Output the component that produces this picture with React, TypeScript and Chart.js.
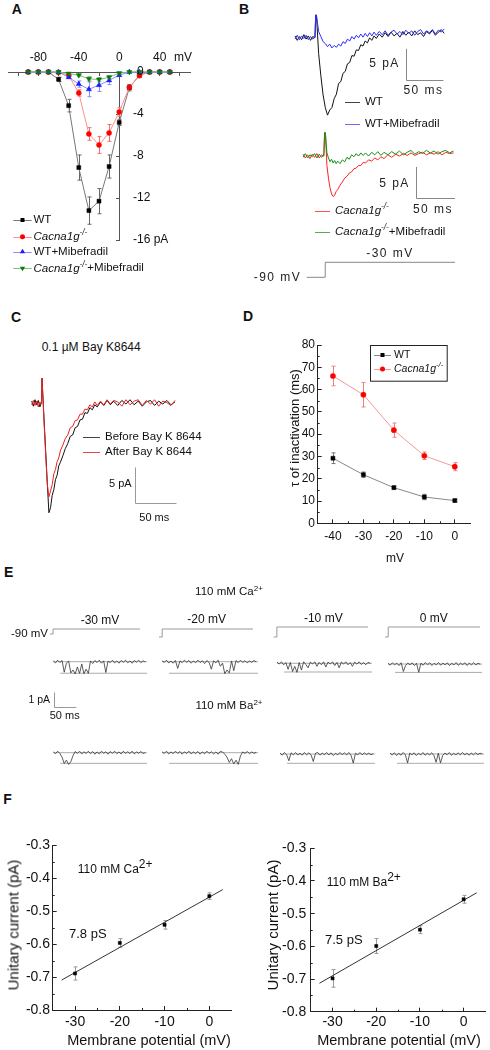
import React, { useEffect, useRef } from 'react';
import { Chart, registerables } from 'chart.js';

Chart.register(...registerables);

const FONT = '"Liberation Sans", Arial, Helvetica, sans-serif';

/* ================= DATA ================= */
// Panel A – I/V curves (pA vs mV)
const ivVoltages = [-90, -80, -70, -60, -50, -40, -30, -20, -10, 0, 10, 20, 30, 40, 50];
const ivWT = [0, 0, 0, -0.7, -3.2, -9.1, -13.2, -12.3, -9.0, -4.8, -1.5, -0.3, 0, 0, 0];
const ivWTErr = [0, 0, 0, 0.2, 0.6, 1.2, 1.3, 1.2, 1.1, 0.3, 0.3, 0.1, 0, 0, 0];
const ivKO = [0, 0, 0, -0.05, -0.3, -2.0, -5.9, -6.95, -5.8, -3.8, -1.45, -0.35, 0, 0, 0];
const ivKOErr = [0, 0, 0, 0, 0.1, 0.3, 0.6, 0.8, 0.8, 0.4, 0.2, 0.1, 0, 0, 0];
const ivWTMib = [0, 0, 0, 0, -0.5, -1.15, -1.65, -1.25, -0.8, -0.3, 0, 0, 0, 0, 0];
const ivWTMibErr = [0, 0, 0, 0, 0.1, 0.3, 0.7, 0.6, 0.4, 0.1, 0, 0, 0, 0, 0];
const ivKOMib = [0, 0, 0, 0, -0.15, -0.3, -0.65, -0.72, -0.5, -0.1, 0, 0, 0, 0, 0];
const ivKOMibErr = [0, 0, 0, 0, 0.05, 0.1, 0.2, 0.2, 0.15, 0.05, 0, 0, 0, 0, 0];
const aXTicks = [-100, -80, -60, -40, -20, 0, 20, 40, 60];
const aXLabelled = [-80, -40, 0, 40];
const aYTicks = [0, -4, -8, -12, -16];
const aYLabels = ['0', '-4', '-8', '-12', '-16 pA'];

// Panel B – whole-cell traces (ms, pA)
const bTopTimes = [0, 3, 6, 9, 12, 15, 18, 21, 24, 27, 28, 29, 32, 35, 38, 41, 44, 47, 50, 53, 56, 59, 62, 65, 68, 71, 74, 77, 80, 83, 86, 89, 92, 95, 98, 101, 104, 107, 110, 114, 118, 122, 126, 130, 134, 138, 142, 146, 150, 154, 158, 162, 166, 170, 174, 178, 182, 186, 190, 194, 198, 202];
const bWT = [0.3, -0.4, 0.2, -0.3, 0.5, -0.2, 0.3, -0.4, 0.2, 0, 3.6, 3.6, -2.5, -6.0, -9.0, -11.0, -12.2, -11.4, -11.0, -9.6, -8.9, -7.2, -6.9, -5.6, -5.3, -4.1, -3.9, -2.8, -2.9, -1.9, -2.0, -1.1, -1.3, -0.5, -0.8, 0.0, -0.4, 0.3, -0.1, 0.6, 0.1, 0.8, 0.2, 0.9, 0.3, 0.7, 0.1, 1.0, 0.4, 0.9, 0.3, 1.1, 0.5, 0.8, 0.2, 1.0, 0.6, 1.2, 0.4, 0.9, 1.3, 0.7];
const bWTMib = [-0.2, 0.4, -0.3, 0.3, -0.1, 0.4, -0.3, 0.2, -0.2, 0.1, 3.6, 3.6, 1.0, 0.2, -0.6, -0.9, -1.4, -1.0, -1.6, -1.2, -1.5, -1.0, -1.3, -0.6, -0.9, -0.2, -0.5, 0.2, -0.2, 0.4, 0.0, 0.6, 0.1, 0.7, 0.2, 0.8, 0.3, 0.9, 0.4, 1.0, 0.5, 1.1, 0.4, 0.9, 1.2, 0.6, 1.0, 0.5, 1.2, 0.7, 1.1, 0.4, 1.0, 1.3, 0.6, 1.1, 0.8, 1.3, 0.6, 1.2, 0.9, 1.4];
const bBotTimes = [0, 3, 6, 9, 12, 15, 18, 21, 24, 27, 28, 29, 31, 33, 35, 37, 39, 41, 43, 45, 48, 51, 54, 57, 60, 63, 66, 69, 72, 75, 78, 81, 85, 89, 93, 97, 101, 105, 110, 115, 120, 125, 130, 135, 140, 145, 150, 155, 160, 165, 170, 175, 180, 185, 190, 195];
const bKO = [0.3, -0.3, 0.2, -0.4, 0.3, -0.2, 0.4, -0.3, 0.2, 0, 3.7, 3.7, -1.5, -3.5, -5.0, -6.0, -6.4, -6.2, -5.6, -5.3, -4.6, -4.1, -3.5, -3.2, -2.7, -2.5, -2.0, -1.9, -1.5, -1.5, -1.0, -1.1, -0.6, -0.8, -0.3, -0.6, -0.1, -0.4, 0.2, -0.2, 0.3, 0.0, 0.4, 0.1, 0.5, 0.1, 0.4, 0.6, 0.2, 0.5, 0.3, 0.7, 0.2, 0.6, 0.4, 0.5];
const bKOMib = [-0.2, 0.4, -0.3, 0.2, -0.1, 0.4, -0.3, 0.3, -0.2, 0.1, 3.7, 3.7, 0.5, -0.3, -0.9, -0.5, -1.1, -0.7, -1.2, -0.8, -1.2, -0.6, -0.9, -0.2, -0.5, 0.2, -0.1, 0.4, 0.0, 0.5, 0.1, 0.5, 0.0, 0.6, 0.2, 0.7, 0.1, 0.6, 0.2, 0.7, 0.3, 0.8, 0.2, 0.6, 0.9, 0.3, 0.7, 0.4, 0.9, 0.5, 0.8, 0.3, 0.7, 0.9, 0.5, 0.8];
const bProtoTimes = [-24, 0, 0, 168];
const bProtoVolts = [-90, -90, -30, -30];

// Panel C – Bay K 8644 traces (ms, pA)
const cTimes = [0, 2, 4, 6, 8, 10, 12, 12.6, 13, 15, 17, 19, 21, 23, 25, 27, 29, 31, 33, 35, 38, 41, 44, 47, 50, 53, 56, 59, 62, 65, 68, 71, 74, 77, 80, 84, 88, 92, 96, 100, 105, 110, 115, 120, 125, 130, 135, 140, 145, 150, 155, 160, 165, 170, 175];
const cBefore = [0.3, -0.4, 0.5, -0.2, 0.4, -0.5, 0.2, 3.5, 3.5, -2.0, -6.5, -11.0, -15.2, -14.5, -12.8, -12.0, -10.6, -10.0, -8.7, -8.2, -7.3, -6.3, -5.6, -4.6, -4.4, -3.4, -3.2, -2.3, -2.2, -1.3, -1.4, -0.6, -0.9, -0.2, -0.5, 0.2, -0.3, 0.4, -0.2, 0.3, -0.3, 0.4, -0.1, 0.5, -0.2, 0.3, -0.4, 0.2, 0.4, -0.3, 0.3, -0.1, 0.4, -0.2, 0.2];
const cAfter = [-0.2, 0.4, -0.3, 0.3, -0.5, 0.2, -0.1, 3.5, 3.5, -2.5, -7.0, -11.2, -13.0, -12.2, -11.3, -9.8, -9.2, -8.1, -7.6, -6.6, -5.8, -4.9, -4.4, -3.4, -3.2, -2.4, -2.3, -1.5, -1.5, -0.8, -0.9, -0.2, -0.5, 0.2, -0.3, 0.3, -0.2, 0.5, -0.1, 0.4, 0.2, -0.4, 0.5, -0.2, 0.3, 0.5, -0.3, 0.4, -0.1, 0.5, -0.4, 0.3, 0.1, -0.3, 0.4];

// Panel D – tau of inactivation (ms)
const dVoltages = [-40, -30, -20, -10, 0];
const dWT = [29.2, 21.8, 16.0, 11.8, 10.2];
const dWTErr = [2.4, 1.2, 0.7, 1.2, 0.6];
const dKO = [66.1, 57.7, 41.8, 30.3, 25.4];
const dKOErr = [4.4, 5.5, 3.2, 1.7, 1.8];
const dXTicks = [-40, -30, -20, -10, 0];
const dXMinor = [-35, -25, -15, -5];
const dYTicks = [0, 10, 20, 30, 40, 50, 60, 70, 80];
const dYMinor = [5, 15, 25, 35, 45, 55, 65, 75];

// Panel E – single-channel traces (ms, pA)
const eTimes = [0, 5, 10, 15, 20, 25, 30, 35, 40, 45, 50, 55, 60, 65, 70, 75, 80, 85, 90, 95, 100, 105, 110, 115, 120, 125, 130, 135, 140, 145, 150, 155, 160, 165, 170, 175, 180, 185, 190, 195, 200, 205, 210];
const eCaM30 = [0.05, -0.08, 0.1, -0.05, 0.08, -0.7, -0.1, 0.05, -0.75, -0.55, -0.82, -0.35, -0.78, -0.15, -0.8, -0.5, -0.78, 0.05, -0.12, 0.08, -0.05, 0.1, -0.1, 0.06, -0.72, 0.04, -0.06, 0.1, -0.08, 0.05, -0.1, 0.08, -0.04, 0.1, -0.07, 0.05, -0.1, 0.08, -0.03, 0.1, -0.06, 0.06, -0.02];
const eCaM20 = [0.06, -0.05, 0.1, -0.08, 0.04, -0.1, 0.08, -0.45, 0.05, -0.06, 0.1, -0.04, 0.08, -0.1, 0.05, -0.07, 0.1, -0.05, 0.06, -0.12, 0.08, -0.05, -0.5, 0.06, -0.08, 0.1, -0.3, -0.1, -0.8, -0.55, -0.75, 0.05, -0.6, 0.08, -0.06, 0.1, -0.05, 0.07, -0.08, 0.05, -0.04, 0.08, -0.02];
const eCaM10 = [0.08, -0.05, 0.1, -0.1, 0.05, -0.4, 0.06, -0.55, -0.2, -0.6, 0.05, -0.45, 0.1, -0.08, -0.3, 0.08, -0.05, 0.1, -0.2, 0.06, -0.1, 0.1, -0.25, 0.08, -0.05, 0.1, -0.15, 0.06, -0.3, 0.08, -0.05, 0.1, -0.1, 0.05, -0.2, 0.08, -0.06, 0.1, -0.08, 0.05, -0.1, 0.06, 0.0];
const eCa0 = [0.05, -0.08, 0.08, -0.05, 0.06, -0.1, 0.08, -0.5, -0.1, 0.06, -0.05, 0.08, -0.1, 0.05, -0.55, 0.06, -0.08, 0.1, -0.05, 0.08, -0.1, 0.05, -0.06, 0.1, -0.08, 0.06, -0.05, 0.08, -0.1, 0.05, -0.06, 0.1, -0.08, 0.05, -0.04, 0.08, -0.1, 0.06, -0.05, 0.08, -0.06, 0.05, -0.02];
const eBaM30 = [0.05, -0.06, 0.1, -0.05, -0.3, -0.72, -0.5, -0.78, -0.6, -0.2, 0.08, -0.05, 0.1, -0.08, 0.06, -0.05, 0.1, -0.06, 0.08, -0.1, 0.05, -0.08, 0.1, -0.04, 0.06, -0.1, 0.08, -0.05, 0.1, -0.06, 0.05, -0.08, 0.1, -0.05, 0.07, -0.06, 0.1, -0.08, 0.05, -0.04, 0.08, -0.05, 0.0];
const eBaM20 = [0.06, -0.05, 0.1, -0.08, 0.05, -0.06, 0.1, -0.05, 0.08, -0.1, 0.06, -0.05, 0.1, -0.08, 0.05, -0.06, 0.08, -0.1, 0.05, -0.07, 0.1, -0.05, 0.06, -0.08, 0.05, -0.1, 0.08, 0.05, -0.1, -0.3, -0.65, -0.4, -0.75, -0.5, -0.78, -0.2, 0.05, -0.05, 0.08, -0.06, 0.05, -0.04, 0.02];
const eBaM10 = [0.06, -0.08, 0.1, -0.05, -0.45, 0.08, -0.05, 0.1, -0.06, 0.05, -0.08, 0.1, -0.05, 0.08, -0.06, -0.5, 0.05, 0.1, -0.08, 0.06, -0.05, 0.1, -0.06, 0.08, -0.1, 0.05, -0.06, 0.1, -0.05, 0.08, -0.06, 0.1, -0.08, -0.6, 0.05, -0.06, 0.1, -0.05, 0.08, -0.04, 0.06, -0.05, 0.02];
const eBa0 = [0.05, -0.06, 0.08, -0.1, 0.05, -0.08, 0.1, -0.05, -0.6, 0.06, -0.05, 0.08, -0.1, 0.05, -0.06, 0.1, -0.08, 0.05, -0.06, 0.08, -0.1, -0.55, 0.05, -0.6, -0.1, 0.06, -0.05, 0.1, -0.08, 0.05, -0.06, 0.08, -0.05, 0.1, -0.06, 0.05, -0.08, 0.06, -0.05, 0.08, -0.04, 0.05, 0.0];
const eCaOpen = [-0.77, -0.77, -0.58, -0.56];
const eBaOpen = [-0.71, -0.71, -0.62, -0.62];
const eLevelTimes = [0, 214];
const eOpenTimes = [16, 214];
const eSteps = [-30, -20, -10, 0];
const eHold = -90;
const eProtoTimes = [-7, 0, 0, 200];

// Panel F – unitary current vs membrane potential
const fVoltages = [-30, -20, -10, 0];
const fCa = [-0.689, -0.596, -0.541, -0.454];
const fCaErr = [0.02, 0.013, 0.013, 0.01];
const fBa = [-0.698, -0.599, -0.549, -0.456];
const fBaErr = [0.027, 0.023, 0.012, 0.012];
const fFitV = [-33, 3];
const fCaFit = [-0.709, -0.434];
const fBaFit = [-0.713, -0.436];
const fXTicks = [-30, -20, -10, 0];
const fXMinor = [-25, -15, -5];
const fYTicks = [-0.3, -0.4, -0.5, -0.6, -0.7, -0.8];
const fYMinor = [-0.35, -0.45, -0.55, -0.65, -0.75];

/* ================= HELPERS ================= */
type Box = { l: number; t: number; w: number; h: number };
type Area = { x0: number; y0: number; x1: number; y1: number };
const padFor = (b: Box, a: Area) => ({ left: a.x0 - b.l, top: a.y0 - b.t, right: b.l + b.w - a.x1, bottom: b.t + b.h - a.y1 });

function drawRich(ctx: any, x: number, y: number, segs: any[], size: number, color: string) {
  ctx.save();
  ctx.fillStyle = color;
  ctx.textAlign = 'left';
  ctx.textBaseline = 'middle';
  let cx = x;
  for (const s of segs) {
    const fs = s.sup ? size * 0.72 : size;
    ctx.font = `${s.i ? 'italic ' : ''}${fs}px ${FONT}`;
    ctx.fillText(s.t, cx, s.sup ? y - size * 0.35 : y);
    cx += ctx.measureText(s.t).width;
  }
  ctx.restore();
}

function drawMarker(ctx: any, m: any, x: number, y: number) {
  ctx.save();
  ctx.fillStyle = m.color;
  ctx.beginPath();
  const r = m.r;
  if (m.style === 'rect') ctx.rect(x - r, y - r, 2 * r, 2 * r);
  else if (m.style === 'circle') ctx.arc(x, y, r, 0, Math.PI * 2);
  else if (m.style === 'tri') { ctx.moveTo(x, y - r); ctx.lineTo(x + r * 0.87, y + r * 0.5); ctx.lineTo(x - r * 0.87, y + r * 0.5); ctx.closePath(); }
  else if (m.style === 'tridown') { ctx.moveTo(x, y + r); ctx.lineTo(x + r * 0.87, y - r * 0.5); ctx.lineTo(x - r * 0.87, y - r * 0.5); ctx.closePath(); }
  ctx.fill();
  ctx.restore();
}

function makeDeco(deco: any, box: Box) {
  const X = (v: number) => v - box.l;
  const Y = (v: number) => v - box.t;
  return {
    id: 'deco',
    beforeDatasetsDraw(chart: any) {
      const ctx = chart.ctx;
      chart.data.datasets.forEach((ds: any, di: number) => {
        if (!ds.errors) return;
        const meta = chart.getDatasetMeta(di);
        const ys = chart.scales.y;
        const cap = ds.errCap ?? 2;
        ctx.save();
        ctx.strokeStyle = ds.errColor || ds.borderColor;
        ctx.lineWidth = 1;
        ds.data.forEach((p: any, i: number) => {
          const e = ds.errors[i];
          if (!e) return;
          const x = Math.round(meta.data[i].x) + 0.5;
          const y1 = ys.getPixelForValue(p.y + e);
          const y2 = ys.getPixelForValue(p.y - e);
          ctx.beginPath();
          ctx.moveTo(x, y1); ctx.lineTo(x, y2);
          ctx.moveTo(x - cap, y1); ctx.lineTo(x + cap, y1);
          ctx.moveTo(x - cap, y2); ctx.lineTo(x + cap, y2);
          ctx.stroke();
        });
        ctx.restore();
      });
    },
    afterDraw(chart: any) {
      const ctx = chart.ctx;
      const xs = chart.scales.x;
      const ys = chart.scales.y;
      const area = chart.chartArea;
      if (deco.minor) {
        const m = deco.minor;
        ctx.save();
        ctx.strokeStyle = m.color;
        ctx.lineWidth = 1;
        ctx.beginPath();
        (m.x || []).forEach((v: number) => {
          const px = Math.round(xs.getPixelForValue(v)) + 0.5;
          ctx.moveTo(px, area.bottom); ctx.lineTo(px, area.bottom - m.len);
        });
        (m.y || []).forEach((v: number) => {
          const py = Math.round(ys.getPixelForValue(v)) + 0.5;
          ctx.moveTo(area.left, py); ctx.lineTo(area.left + m.len, py);
        });
        ctx.stroke();
        ctx.restore();
      }
      if (deco.yLabels) {
        const yl = deco.yLabels;
        ctx.save();
        ctx.font = `${yl.size}px ${FONT}`;
        ctx.fillStyle = yl.color;
        ctx.textAlign = 'left';
        ctx.textBaseline = 'middle';
        const x0 = xs.getPixelForValue(0);
        yl.values.forEach((v: number, i: number) => {
          ctx.fillText(yl.labels[i], x0 + yl.dx + (yl.shift ? yl.shift[i] : 0), ys.getPixelForValue(v));
        });
        ctx.restore();
      }
      if (deco.scaleBar) {
        const sb = deco.scaleBar;
        const w = xs.getPixelForValue(sb.dx) - xs.getPixelForValue(0);
        const h = ys.getPixelForValue(0) - ys.getPixelForValue(sb.dy);
        const cx = Math.round(X(sb.x)) + 0.5;
        const cy = Math.round(Y(sb.y)) + 0.5;
        ctx.save();
        ctx.strokeStyle = sb.color;
        ctx.lineWidth = 1;
        ctx.beginPath();
        ctx.moveTo(cx, cy - h); ctx.lineTo(cx, cy); ctx.lineTo(cx + w, cy);
        ctx.stroke();
        ctx.restore();
      }
      if (deco.legend) {
        const lg = deco.legend;
        ctx.save();
        if (lg.box) {
          ctx.strokeStyle = '#222';
          ctx.lineWidth = 1;
          ctx.strokeRect(Math.round(X(lg.box[0])) + 0.5, Math.round(Y(lg.box[1])) + 0.5, lg.box[2] - lg.box[0], lg.box[3] - lg.box[1]);
        }
        lg.rows.forEach((r: any) => {
          const y = Math.round(Y(r.y)) + 0.5;
          ctx.strokeStyle = r.line;
          ctx.lineWidth = 1;
          ctx.beginPath();
          ctx.moveTo(X(lg.lineX[0]), y); ctx.lineTo(X(lg.lineX[1]), y);
          ctx.stroke();
          if (r.marker) drawMarker(ctx, r.marker, X(lg.markerX), Y(r.y));
          drawRich(ctx, X(lg.textX), Y(r.y), r.segs, lg.size, lg.color || '#111');
        });
        ctx.restore();
      }
    },
  };
}

const baseOptions = (padding: any) => ({
  animation: false,
  responsive: false,
  devicePixelRatio: 1,
  events: [],
  layout: { padding },
  plugins: { legend: { display: false }, tooltip: { enabled: false }, title: { display: false } },
  elements: { line: { tension: 0 }, point: { radius: 0 } },
});

const series = (xs: number[], ys: number[], color: string, width = 1, extra: any = {}) => ({
  data: xs.map((x, i) => ({ x, y: ys[i] })),
  borderColor: color,
  borderWidth: width,
  pointRadius: 0,
  fill: false,
  clip: false,
  ...extra,
});

function traceCfg(box: Box, area: Area, xr: number[], yr: number[], datasets: any[], deco: any = {}) {
  return {
    type: 'line',
    data: { datasets },
    options: {
      ...baseOptions(padFor(box, area)),
      scales: {
        x: { type: 'linear', min: xr[0], max: xr[1], display: false },
        y: { type: 'linear', min: yr[0], max: yr[1], display: false },
      },
    },
    plugins: [makeDeco(deco, box)],
  };
}

function axisCfg(box: Box, area: Area, xr: number[], yr: number[], datasets: any[], ax: any, deco: any) {
  const tickColor = ax.color;
  const common = (ticks: number[]) => ({
    grid: { drawOnChartArea: false, drawTicks: true, tickLength: -4, tickColor, tickWidth: 1 },
    border: { display: true, color: tickColor, width: 1 },
    afterBuildTicks: (s: any) => { s.ticks = ticks.map((v) => ({ value: v })); },
  });
  return {
    type: 'line',
    data: { datasets },
    options: {
      ...baseOptions({ left: 0, bottom: 0, top: area.y0 - box.t, right: box.l + box.w - area.x1 }),
      scales: {
        x: {
          type: 'linear', min: xr[0], max: xr[1], position: 'bottom',
          ...common(ax.xTicks),
          afterFit: (s: any) => { s.height = box.t + box.h - area.y1; },
          ticks: { autoSkip: false, maxRotation: 0, minRotation: 0, padding: ax.xPad, color: '#111', font: { family: FONT, size: ax.size }, callback: (v: any) => String(v) },
        },
        y: {
          type: 'linear', min: yr[0], max: yr[1], position: 'left',
          ...common(ax.yTicks),
          afterFit: (s: any) => { s.width = area.x0 - box.l; },
          ticks: { autoSkip: false, padding: ax.yPad, color: '#111', font: { family: FONT, size: ax.size }, callback: ax.yFmt },
        },
      },
    },
    plugins: [makeDeco(deco, box)],
  };
}

const pts = (xs: number[], ys: number[]) => xs.map((x, i) => ({ x, y: ys[i] }));

/* ================= CHART DEFINITIONS ================= */
function buildCharts() {
  const list: { box: Box; make: () => any }[] = [];
  const KO_SEGS = [{ t: 'Cacna1g', i: true }, { t: '-/-', i: true, sup: true }];

  // ---- Panel A ----
  const boxA = { l: 0, t: 20, w: 240, h: 270 };
  const areaA = { x0: 8, y0: 72, x1: 190, y1: 240 };
  list.push({
    box: boxA,
    make: () => {
      const mk = (vals: number[], errs: number[], line: string, color: string, style: string, r: number, rot: number, errColor: string) => ({
        data: pts(ivVoltages, vals), borderColor: line, borderWidth: 1, pointStyle: style, pointRadius: r, pointRotation: rot,
        pointBackgroundColor: color, pointBorderColor: color, pointBorderWidth: 0.5, clip: false, fill: false,
        errors: errs, errColor, errCap: 2,
      });
      return {
        type: 'line',
        data: {
          datasets: [
            mk(ivKOMib, ivKOMibErr, '#7fbf7f', '#0a7a0a', 'triangle', 3, 180, '#7fbf7f'),
            mk(ivWTMib, ivWTMibErr, '#8c8cff', '#1a1aff', 'triangle', 3, 0, '#8c8cff'),
            mk(ivKO, ivKOErr, '#ff8c8c', '#ff0000', 'circle', 2.5, 0, '#f07070'),
            mk(ivWT, ivWTErr, '#777', '#000', 'rect', 2.8, 0, '#666'),
          ],
        },
        options: {
          ...baseOptions(padFor(boxA, areaA)),
          scales: {
            x: {
              type: 'linear', min: -110, max: 70, position: { y: 0 },
              afterBuildTicks: (s: any) => { s.ticks = aXTicks.map((v) => ({ value: v })); },
              grid: { drawOnChartArea: false, drawTicks: true, tickLength: 3, tickColor: '#555' },
              border: { display: true, color: '#555', width: 1 },
              ticks: { autoSkip: false, maxRotation: 0, minRotation: 0, padding: -25, color: '#111', font: { family: FONT, size: 12 }, callback: (v: any) => (aXLabelled.includes(v) ? String(v) : '') },
            },
            y: {
              type: 'linear', min: -16, max: 0, position: { x: 0 },
              afterBuildTicks: (s: any) => { s.ticks = aYTicks.map((v) => ({ value: v })); },
              grid: { drawOnChartArea: false, drawTicks: true, tickLength: 3, tickColor: '#555' },
              border: { display: true, color: '#555', width: 1 },
              ticks: { display: false },
            },
          },
        },
        plugins: [makeDeco({
          yLabels: { values: aYTicks, labels: aYLabels, dx: 13.8, shift: [4, 0, 0, 0, 0], size: 12, color: '#111' },
          legend: {
            rows: [
              { y: 220, line: '#777', marker: { style: 'rect', color: '#000', r: 2 }, segs: [{ t: 'WT' }] },
              { y: 236.7, line: '#ff8c8c', marker: { style: 'circle', color: '#ff0000', r: 2.5 }, segs: KO_SEGS },
              { y: 251.7, line: '#8c8cff', marker: { style: 'tri', color: '#1a1aff', r: 3 }, segs: [{ t: 'WT+Mibefradil' }] },
              { y: 268.3, line: '#7fbf7f', marker: { style: 'tridown', color: '#0a7a0a', r: 3 }, segs: [...KO_SEGS, { t: '+Mibefradil' }] },
            ],
            lineX: [13.3, 31.7], markerX: 22.5, textX: 33.5, size: 11.5,
          },
        }, boxA)],
      };
    },
  });

  // ---- Panel B ----
  const boxBT = { l: 250, t: 8, w: 240, h: 127 };
  const areaBT = { x0: 295, y0: 15, x1: 445, y1: 120.2 };
  list.push({
    box: boxBT,
    make: () => traceCfg(boxBT, areaBT, [0, 203], [-13, 3.6], [
      series(bTopTimes, bWTMib, '#2a2aff'),
      series(bTopTimes, bWT, '#111'),
    ], {
      scaleBar: { x: 406, y: 80, dx: 50, dy: 5, color: '#888' },
      legend: {
        rows: [
          { y: 101.7, line: '#444', segs: [{ t: 'WT' }] },
          { y: 124, line: '#6a6aff', segs: [{ t: 'WT+Mibefradil' }] },
        ],
        lineX: [345, 360], markerX: 0, textX: 365, size: 11.5,
      },
    }),
  });
  const boxBB = { l: 250, t: 125, w: 240, h: 115 };
  const areaBB = { x0: 303, y0: 132.7, x1: 455, y1: 200.3 };
  list.push({
    box: boxBB,
    make: () => traceCfg(boxBB, areaBB, [0, 197], [-7, 3.7], [
      series(bBotTimes, bKOMib, '#159015'),
      series(bBotTimes, bKO, '#ff2020'),
    ], {
      scaleBar: { x: 415.7, y: 198.3, dx: 50, dy: 5, color: '#888' },
      legend: {
        rows: [
          { y: 210.7, line: '#ff5050', segs: KO_SEGS },
          { y: 231.7, line: '#50b050', segs: [...KO_SEGS, { t: '+Mibefradil' }] },
        ],
        lineX: [315, 330], markerX: 0, textX: 335, size: 11.5,
      },
    }),
  });
  const boxBP = { l: 250, t: 255, w: 240, h: 30 };
  const areaBP = { x0: 306.7, y0: 262.3, x1: 455, y1: 277.3 };
  list.push({
    box: boxBP,
    make: () => traceCfg(boxBP, areaBP, [-24, 168], [-90, -30], [series(bProtoTimes, bProtoVolts, '#888')]),
  });

  // ---- Panel C ----
  const boxC = { l: 0, t: 372, w: 240, h: 160 };
  const areaC = { x0: 31.7, y0: 380.3, x1: 176.7, y1: 515.6 };
  list.push({
    box: boxC,
    make: () => traceCfg(boxC, areaC, [0, 177], [-15.6, 3.2], [
      series(cTimes, cAfter, '#ee2222'),
      series(cTimes, cBefore, '#111'),
    ], {
      scaleBar: { x: 135, y: 503, dx: 50, dy: 5, color: '#999' },
      legend: {
        rows: [
          { y: 436.7, line: '#444', segs: [{ t: 'Before Bay K 8644' }] },
          { y: 452.3, line: '#ee4444', segs: [{ t: 'After Bay K 8644' }] },
        ],
        lineX: [83, 100], markerX: 0, textX: 105, size: 11.5,
      },
    }),
  });

  // ---- Panel D ----
  const boxD = { l: 245, t: 330, w: 245, h: 230 };
  const areaD = { x0: 317.7, y0: 345, x1: 470, y1: 523.3 };
  list.push({
    box: boxD,
    make: () => axisCfg(boxD, areaD, [-45, 5], [0, 80], [
      { data: pts(dVoltages, dKO), borderColor: '#f29a9a', borderWidth: 1, pointStyle: 'circle', pointRadius: 2.6, pointBackgroundColor: '#ff0000', pointBorderColor: '#ff0000', pointBorderWidth: 0.5, clip: false, fill: false, errors: dKOErr, errColor: '#f08080', errCap: 2 },
      { data: pts(dVoltages, dWT), borderColor: '#888', borderWidth: 1, pointStyle: 'rect', pointRadius: 2.8, pointBackgroundColor: '#000', pointBorderColor: '#000', pointBorderWidth: 0.5, clip: false, fill: false, errors: dWTErr, errColor: '#777', errCap: 2 },
    ], { color: '#222', xTicks: dXTicks, yTicks: dYTicks, size: 12, xPad: 10.5, yPad: 6.7, yFmt: (v: any) => String(v) }, {
      minor: { x: dXMinor, y: dYMinor, len: 2, color: '#222' },
      legend: {
        box: [370, 345, 446.7, 380.7],
        rows: [
          { y: 355, line: '#888', marker: { style: 'rect', color: '#000', r: 2 }, segs: [{ t: 'WT' }] },
          { y: 369, line: '#f29a9a', marker: { style: 'circle', color: '#ff0000', r: 2.5 }, segs: KO_SEGS },
        ],
        lineX: [374, 391], markerX: 382.5, textX: 394, size: 10.5,
      },
    }),
  });

  // ---- Panel E ----
  const E_YR = [-1.0, 0.35];
  const E_PX = 15;
  const caTraces = [eCaM30, eCaM20, eCaM10, eCa0];
  const baTraces = [eBaM30, eBaM20, eBaM10, eBa0];
  const caLay = [{ x0: 53.3, x1: 147, c: 661.7 }, { x0: 162, x1: 258, c: 661.7 }, { x0: 277, x1: 372, c: 663.3 }, { x0: 388, x1: 482, c: 664 }];
  const baLay = [{ x0: 53.3, x1: 147, c: 752.7 }, { x0: 162, x1: 258, c: 752.7 }, { x0: 280, x1: 375, c: 754 }, { x0: 390, x1: 484, c: 754 }];
  const addTrace = (vals: number[], open: number, lay: any, withBar: boolean) => {
    const area = { x0: lay.x0, x1: lay.x1, y0: lay.c - E_YR[1] * E_PX, y1: lay.c - E_YR[0] * E_PX };
    const l = Math.floor(area.x0 - 3);
    const t = Math.floor(area.y0 - 3);
    const box = { l, t, w: Math.ceil(area.x1 + 3) - l, h: (withBar ? 712 : Math.ceil(area.y1 + 3)) - t };
    list.push({
      box,
      make: () => traceCfg(box, area, [0, 214], E_YR, [
        series(eTimes, vals, '#333', 0.8),
        series(eLevelTimes, eLevelTimes.map(() => 0), '#aaa', 1),
        series(eOpenTimes, eOpenTimes.map(() => open), '#aaa', 1),
      ], withBar ? { scaleBar: { x: 54, y: 707, dx: 50, dy: 1, color: '#999' } } : {}),
    });
  };
  caTraces.forEach((v, i) => addTrace(v, eCaOpen[i], caLay[i], i === 0));
  baTraces.forEach((v, i) => addTrace(v, eBaOpen[i], baLay[i], false));
  const protoLay = [{ x0: 50, x1: 140, y0: 629, y1: 634 }, { x0: 159, x1: 253, y0: 629, y1: 637 }, { x0: 273.7, x1: 368, y0: 627, y1: 637 }, { x0: 385, x1: 480, y0: 627, y1: 637 }];
  eSteps.forEach((v, i) => {
    const area = protoLay[i];
    const l = Math.floor(area.x0 - 3);
    const t = Math.floor(area.y0 - 3);
    const box = { l, t, w: Math.ceil(area.x1 + 3) - l, h: Math.ceil(area.y1 + 3) - t };
    list.push({
      box,
      make: () => traceCfg(box, area, [eProtoTimes[0], eProtoTimes[3]], [eHold, v], [series(eProtoTimes, [eHold, eHold, v, v], '#999', 1)]),
    });
  });

  // ---- Panel F ----
  const fDefs = [
    { box: { l: 0, t: 830, w: 245, h: 215 }, area: { x0: 52.7, y0: 845.5, x1: 231.7, y1: 1010 }, vals: fCa, errs: fCaErr, fit: fCaFit, xPad: 7.3, yPad: 6.7 },
    { box: { l: 245, t: 830, w: 245, h: 215 }, area: { x0: 310.7, y0: 848.3, x1: 488.3, y1: 1011.7 }, vals: fBa, errs: fBaErr, fit: fBaFit, xPad: 5.6, yPad: 8.5 },
  ];
  fDefs.forEach((f) => {
    list.push({
      box: f.box,
      make: () => axisCfg(f.box, f.area, [-35, 5], [-0.8, -0.3], [
        { data: pts(fVoltages, f.vals), borderWidth: 0, showLine: false, pointStyle: 'rect', pointRadius: 2.2, pointBackgroundColor: '#000', pointBorderColor: '#000', pointBorderWidth: 0.5, clip: false, errors: f.errs, errColor: '#999', errCap: 2 },
        series(fFitV, f.fit, '#333', 1),
      ], { color: '#222', xTicks: fXTicks, yTicks: fYTicks, size: 14, xPad: f.xPad, yPad: f.yPad, yFmt: (v: any) => Number(v).toFixed(1) }, {
        minor: { x: fXMinor, y: fYMinor, len: 2, color: '#222' },
      }),
    });
  });

  return list;
}

/* ================= COMPONENTS ================= */
function ChartCanvas({ box, make }: { box: Box; make: () => any }) {
  const ref = useRef<HTMLCanvasElement>(null);
  useEffect(() => {
    const chart = new Chart(ref.current as HTMLCanvasElement, make());
    return () => chart.destroy();
  }, []);
  return (
    <canvas
      ref={ref}
      width={box.w}
      height={box.h}
      style={{ position: 'absolute', left: box.l, top: box.t, width: box.w, height: box.h }}
    />
  );
}

function T({ x, y, s, a = 'c', b = false, r = false, ls = 0, c = '#111', children }: any) {
  const tx = a === 'l' ? '0' : a === 'r' ? '-100%' : '-50%';
  return (
    <div
      style={{
        position: 'absolute', left: x, top: y,
        transform: `translate(${tx},-50%)${r ? ' rotate(-90deg)' : ''}`,
        fontSize: s, fontWeight: b ? 'bold' : 'normal', letterSpacing: ls, color: c,
        whiteSpace: 'nowrap', lineHeight: 1, fontFamily: FONT,
      }}
    >
      {children}
    </div>
  );
}

const Sup = ({ children, k = 0.7, up = -0.55 }: any) => (
  <span style={{ fontSize: `${k}em`, position: 'relative', top: `${up}em`, fontFamily: FONT }}>{children}</span>
);

export default function App() {
  const charts = buildCharts();
  return (
    <div style={{ position: 'absolute', left: 0, top: 0, width: 490, height: 1050, background: '#fff', overflow: 'hidden', fontFamily: FONT }}>
      {charts.map((c, i) => (
        <ChartCanvas key={i} box={c.box} make={c.make} />
      ))}

      {/* panel letters */}
      <T x={16.7} y={8.7} s={14} b>A</T>
      <T x={244} y={8.7} s={14} b>B</T>
      <T x={16} y={316.5} s={14} b>C</T>
      <T x={248} y={316} s={14} b>D</T>
      <T x={8.7} y={571.7} s={14} b>E</T>
      <T x={7.5} y={798.7} s={14} b>F</T>

      {/* A */}
      <T x={183} y={57.3} s={12}>mV</T>

      {/* B */}
      <T x={384.5} y={63.3} s={12} ls={1.5} c="#222">5 pA</T>
      <T x={423.5} y={90} s={12} ls={1.5} c="#222">50 ms</T>
      <T x={394.5} y={182.7} s={12} ls={1.5} c="#222">5 pA</T>
      <T x={433} y={209.3} s={12} ls={1.5} c="#222">50 ms</T>
      <T x={390} y={253.3} s={12} ls={1.5} c="#222">-30 mV</T>
      <T x={277.5} y={277.3} s={12} ls={1.5} c="#222">-90 mV</T>

      {/* C */}
      <T x={41.7} y={347} s={12} a="l">0.1 µM Bay K8644</T>
      <T x={131.7} y={483} s={11} a="r">5 pA</T>
      <T x={154.3} y={517} s={11}>50 ms</T>

      {/* D */}
      <T x={293.7} y={428} s={13} r>τ of inactivation (ms)</T>
      <T x={395} y={558} s={12}>mV</T>

      {/* E */}
      <T x={229} y={592} s={11.5}>110 mM Ca<Sup>2+</Sup></T>
      <T x={100} y={620} s={12}>-30 mV</T>
      <T x={206.7} y={618.5} s={12}>-20 mV</T>
      <T x={323.3} y={617.5} s={12}>-10 mV</T>
      <T x={433.8} y={618.3} s={12}>0 mV</T>
      <T x={48} y={634} s={11.5} a="r">-90 mV</T>
      <T x={50} y={699} s={10.5} a="r">1 pA</T>
      <T x={64.7} y={715} s={11}>50 ms</T>
      <T x={229} y={706} s={11.5}>110 mM Ba<Sup>2+</Sup></T>

      {/* F */}
      <T x={77.7} y={869} s={12} a="l">110 mM Ca<Sup k={1} up={-0.4}>2+</Sup></T>
      <T x={69} y={933} s={13} a="l">7.8 pS</T>
      <T x={13} y={925} s={15} r>Unitary current (pA)</T>
      <T x={149} y={1040} s={14.5}>Membrane potential (mV)</T>
      <T x={326.7} y={881.7} s={12} a="l">110 mM Ba<Sup k={1} up={-0.4}>2+</Sup></T>
      <T x={325} y={939.3} s={13} a="l">7.5 pS</T>
      <T x={272} y={925} s={15} r>Unitary current (pA)</T>
      <T x={399} y={1040} s={14.5}>Membrane potential (mV)</T>
    </div>
  );
}
